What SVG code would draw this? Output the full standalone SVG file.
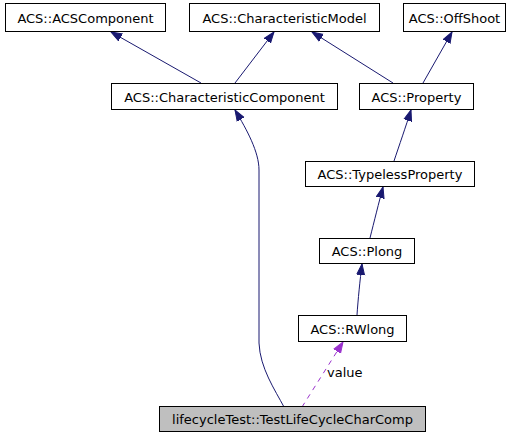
<svg xmlns="http://www.w3.org/2000/svg" width="523" height="437" viewBox="0 0 523 437">
<style>
.box{fill:#ffffff;stroke:#000000;stroke-width:1}
.main{fill:#bfbfbf;stroke:#000000;stroke-width:1}
.lbl{font-family:"DejaVu Sans",sans-serif;font-size:13px;fill:#000000;text-anchor:middle}
.e{fill:none;stroke:#191970;stroke-width:1}
.d{fill:none;stroke:#9a32cd;stroke-width:1;stroke-dasharray:5,5}
</style>
<defs>
<marker id="ah" markerUnits="userSpaceOnUse" markerWidth="12" markerHeight="10" refX="11" refY="4" orient="auto" viewBox="0 0 12 8">
<polygon points="0,0 11,4 0,8" fill="#191970" stroke="#191970"/>
</marker>
<marker id="ap" markerUnits="userSpaceOnUse" markerWidth="12" markerHeight="10" refX="11" refY="4" orient="auto" viewBox="0 0 12 8">
<polygon points="0,0 11,4 0,8" fill="#9a32cd" stroke="#9a32cd"/>
</marker>
</defs>
<rect width="523" height="437" fill="#ffffff"/>
<g id="edges">
<path class="e" d="M201,83 L111,32" marker-end="url(#ah)"/>
<path class="e" d="M235,83 L274,32" marker-end="url(#ah)"/>
<path class="e" d="M393,83 L312,32" marker-end="url(#ah)"/>
<path class="e" d="M423,83 L452,32" marker-end="url(#ah)"/>
<path class="e" d="M394,161 C399,146 406,126 411,110" marker-end="url(#ah)"/>
<path class="e" d="M370,238 C374,222 379,202 383,187" marker-end="url(#ah)"/>
<path class="e" d="M357,315 C358,300 360,280 362,264" marker-end="url(#ah)"/>
<path class="e" d="M284,407 C275,390 260,368 259,343 L259,170 C259,152 247,130 235,110" marker-end="url(#ah)"/>
<path class="d" d="M302,407 L343,342" marker-end="url(#ap)"/>
<text class="lbl" x="327" y="377" style="text-anchor:start">value</text>
</g>
<g id="n1"><rect class="box" x="5.5" y="3.5" width="160" height="28"/><text class="lbl" x="85.5" y="22.5">ACS::ACSComponent</text></g>
<g id="n2"><rect class="box" x="189.5" y="3.5" width="190" height="28"/><text class="lbl" x="284.5" y="22.5">ACS::CharacteristicModel</text></g>
<g id="n3"><rect class="box" x="403.5" y="3.5" width="102" height="28"/><text class="lbl" x="454.5" y="22.5">ACS::OffShoot</text></g>
<g id="n4"><rect class="box" x="111.5" y="83.5" width="226" height="26"/><text class="lbl" x="224.5" y="101.5">ACS::CharacteristicComponent</text></g>
<g id="n5"><rect class="box" x="359.5" y="83.5" width="114" height="26"/><text class="lbl" x="416.5" y="101.5">ACS::Property</text></g>
<g id="n6"><rect class="box" x="305.5" y="161.5" width="169" height="25"/><text class="lbl" x="390" y="179">ACS::TypelessProperty</text></g>
<g id="n7"><rect class="box" x="319.5" y="238.5" width="95" height="25"/><text class="lbl" x="367" y="256">ACS::Plong</text></g>
<g id="n8"><rect class="box" x="298.5" y="315.5" width="108" height="26"/><text class="lbl" x="352.5" y="333.5">ACS::RWlong</text></g>
<g id="n9"><rect class="main" x="159.5" y="406.5" width="266" height="25"/><text class="lbl" x="292.5" y="424">lifecycleTest::TestLifeCycleCharComp</text></g>
</svg>
